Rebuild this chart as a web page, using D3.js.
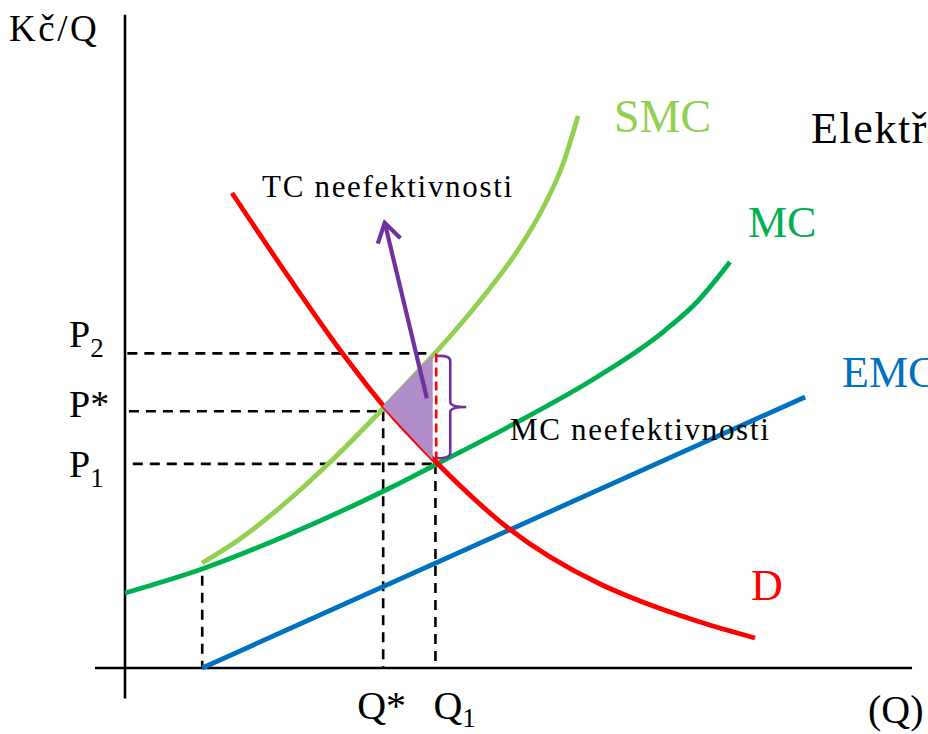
<!DOCTYPE html>
<html>
<head>
<meta charset="utf-8">
<script src="https://cdn.jsdelivr.net/npm/d3@7"></script>
<style>
  html, body { margin: 0; padding: 0; background: #fff; }
  svg { display: block; }
  text { font-family: "Liberation Serif", "DejaVu Serif", serif; }
</style>
</head>
<body>
<svg id="chart" width="928" height="734"></svg>
<script>
// ---------------- DATA (quantity Q, price Kč/Q) ----------------
const demandD = [[13.72,73.08],[21.15,59.85],[27.95,48.31],[32.95,40.62],[39.74,31.85],[49.10,21.54],[60.90,12.92],[64.74,10.92],[73.72,7.08],[80.77,4.62]];
const smcCurve = [[9.87,16.15],[14.74,19.85],[21.15,26.0],[25.64,30.92],[32.05,38.62],[38.46,46.77],[42.05,51.54],[46.41,57.85],[50.64,64.77],[53.59,70.77],[56.15,77.54],[58.08,84.92]];
const mcCurve = [[0,11.54],[9.87,15.23],[21.15,20.62],[33.97,27.69],[39.74,31.23],[49.36,37.23],[60.51,44.77],[68.97,51.69],[73.33,56.31],[77.56,62.46]];
const emcLine = [[9.9,0],[87.2,41.7]];

const Q0 = 9.9, Q_STAR = 33.1, Q_1 = 39.8;
const P_2 = 48.4, P_STAR = 39.5, P_1 = 31.4;
const EQ_POINT = [33.0, 40.3];          // D ∩ SMC
const MC_AT_Q0 = 15.2;

const priceLabels = [
  { main: "P", sub: "2", value: P_2 },
  { main: "P*", sub: "", value: P_STAR },
  { main: "P", sub: "1", value: P_1 }
];
const qtyLabels = [
  { main: "Q*", sub: "", value: Q_STAR },
  { main: "Q", sub: "1", value: Q_1 }
];
const curveLabels = [
  { text: "SMC", color: "#92D050" },
  { text: "MC", color: "#00B050" },
  { text: "EMC", color: "#0070C0" },
  { text: "D", color: "#FF0000" }
];

// ---------------- SCALES ----------------
const svg = d3.select("#chart");
const x = d3.scaleLinear().domain([0, 100]).range([125, 905]);
const y = d3.scaleLinear().domain([0, 100]).range([668, 18]);

const line = d3.line().x(d => x(d[0])).y(d => y(d[1])).curve(d3.curveMonotoneX);
const straight = d3.line().x(d => x(d[0])).y(d => y(d[1]));

// ---------------- AXES ----------------
svg.append("line").attr("x1", x(0)).attr("x2", x(0)).attr("y1", y(100.5)).attr("y2", y(-4.7))
  .attr("stroke", "#000").attr("stroke-width", 2.6);
svg.append("line").attr("x1", x(-3.85)).attr("x2", x(100.9)).attr("y1", y(0)).attr("y2", y(0))
  .attr("stroke", "#000").attr("stroke-width", 2.6);

// ---------------- DASHED GUIDES ----------------
const dash = g => g.attr("stroke", "#000").attr("stroke-width", 2.6).attr("stroke-dasharray", "10,7").attr("fill", "none");
svg.append("path").attr("d", straight([[0.3, P_2], [Q_1 - 0.4, P_2]])).call(dash);
svg.append("path").attr("d", straight([[0.5, P_STAR], [Q_STAR, P_STAR]])).call(dash);
svg.append("path").attr("d", straight([[1.0, P_1], [Q_1 + 0.8, P_1]])).call(dash);
svg.append("path").attr("d", straight([[Q_STAR, P_STAR], [Q_STAR, 0]])).call(dash);
svg.append("path").attr("d", straight([[Q_1, P_1], [Q_1, 0]])).call(dash);
svg.append("path").attr("d", straight([[Q0, MC_AT_Q0 - 1.0], [Q0, 0]])).call(dash);

// ---------------- CURVES ----------------
const cw = 4.8;
svg.append("path").attr("d", straight(emcLine)).attr("stroke", "#0070C0").attr("stroke-width", cw).attr("fill", "none");
svg.append("path").attr("d", line(mcCurve)).attr("stroke", "#00B050").attr("stroke-width", cw).attr("fill", "none");
svg.append("path").attr("d", line(smcCurve)).attr("stroke", "#92D050").attr("stroke-width", cw).attr("fill", "none");
svg.append("path").attr("d", line(demandD)).attr("stroke", "#FF0000").attr("stroke-width", cw).attr("fill", "none");

// ---------------- DEADWEIGHT TRIANGLE ----------------
const tri = [EQ_POINT, [Q_1 - 0.35, P_2 - 0.2], [Q_1 - 0.35, P_1 + 0.6]];
svg.append("path").attr("d", straight(tri) + "Z").attr("fill", "#B08CC9").attr("stroke", "none");

// red dashed vertical (MC inefficiency)
svg.append("path").attr("d", straight([[Q_1 + 0.1, P_2], [Q_1 + 0.1, P_1 + 0.3]]))
  .attr("stroke", "#FF0000").attr("stroke-width", 2.6).attr("stroke-dasharray", "9,5").attr("fill", "none");

// brace
const bx0 = x(Q_1 + 0.2), bx1 = x(Q_1 + 1.9), bx2 = x(Q_1 + 3.95);
const byT = y(P_2 - 0.4), byB = y(P_1 + 0.9), byM = (byT + byB) / 2;
const bp = d3.path();
bp.moveTo(bx0, byT);
bp.quadraticCurveTo(bx1, byT - 1, bx1, byT + 5);
bp.lineTo(bx1, byM - 5);
bp.quadraticCurveTo(bx1, byM, bx2, byM);
bp.quadraticCurveTo(bx1, byM, bx1, byM + 5);
bp.lineTo(bx1, byB - 5);
bp.quadraticCurveTo(bx1, byB + 1, bx0, byB);
svg.append("path").attr("d", bp.toString()).attr("stroke", "#7030A0").attr("stroke-width", 2.6).attr("fill", "none");

// arrow
const tail = [x(38.7), y(41.5)], tip = [x(33.3), y(68.5)];
svg.append("line").attr("x1", tail[0]).attr("y1", tail[1]).attr("x2", tip[0]).attr("y2", tip[1])
  .attr("stroke", "#7030A0").attr("stroke-width", 4.2);
{
  const dx = tail[0] - tip[0], dy = tail[1] - tip[1], L = Math.hypot(dx, dy);
  const ux = dx / L, uy = dy / L, a = 32 * Math.PI / 180, len = 22;
  const r = s => [tip[0] + len * (ux * Math.cos(s * a) - uy * Math.sin(s * a)), tip[1] + len * (ux * Math.sin(s * a) + uy * Math.cos(s * a))];
  const p1 = r(1), p2 = r(-1);
  svg.append("path").attr("d", `M${p1[0]},${p1[1]}L${tip[0]},${tip[1]}L${p2[0]},${p2[1]}`)
    .attr("stroke", "#7030A0").attr("stroke-width", 4.2).attr("fill", "none");
}

// ---------------- TEXT ----------------
svg.append("text").attr("x", 9).attr("y", 41).attr("font-size", 37).attr("letter-spacing", 2.5).text("Kč/Q");
svg.append("text").attr("x", 868).attr("y", 723).attr("font-size", 40).text("(Q)");

const pOffsets = [-6, 6, 13];
priceLabels.forEach((p, i) => {
  const t = svg.append("text").attr("x", 69).attr("y", y(p.value) + pOffsets[i]).attr("font-size", 38);
  t.append("tspan").text(p.main);
  if (p.sub) t.append("tspan").attr("font-size", 27).attr("dy", 10).text(p.sub);
});
const qShift = [-26, -2];
qtyLabels.forEach((q, i) => {
  const t = svg.append("text").attr("x", x(q.value) + qShift[i]).attr("y", 719).attr("font-size", 40);
  t.append("tspan").text(q.main);
  if (q.sub) t.append("tspan").attr("font-size", 27).attr("dy", 8).text(q.sub);
});

const curvePos = [[614, 132], [748, 237], [842, 387], [751, 600]];
curveLabels.forEach((c, i) => {
  svg.append("text").attr("x", curvePos[i][0]).attr("y", curvePos[i][1]).attr("font-size", i === 0 ? 46 : 44)
    .attr("fill", c.color).text(c.text);
});
svg.append("text").attr("x", 811).attr("y", 143).attr("font-size", 44).attr("letter-spacing", 1.6).text("Elektřina");
svg.append("text").attr("x", 262).attr("y", 197).attr("font-size", 31).attr("letter-spacing", 1.7).text("TC neefektivnosti");
svg.append("text").attr("x", 510).attr("y", 440).attr("font-size", 31).attr("letter-spacing", 1.7).text("MC neefektivnosti");
</script>
</body>
</html>
